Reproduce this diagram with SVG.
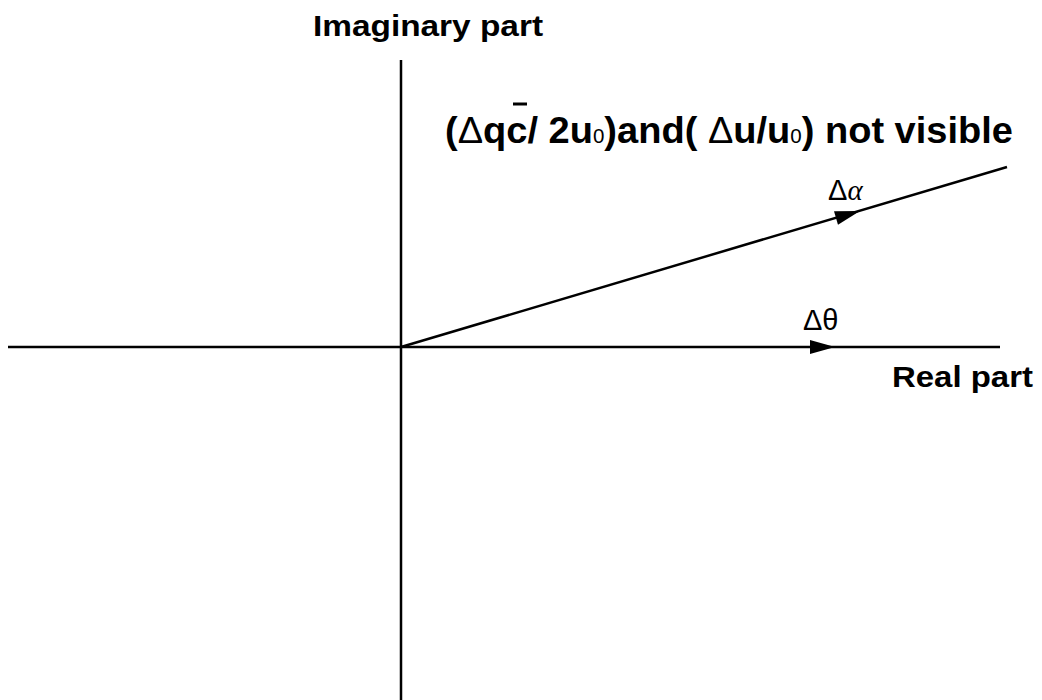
<svg xmlns="http://www.w3.org/2000/svg" width="1042" height="700" viewBox="0 0 1042 700">
<style>
.ax{stroke:#000;stroke-width:2.5;fill:none}
.lbl{font-family:"Liberation Sans",Arial,sans-serif;font-weight:bold;fill:#000}
.sym{font-family:"Liberation Sans",Arial,sans-serif;font-weight:normal;fill:#000}
</style>
<rect width="1042" height="700" fill="#fff"/>
<g id="connectors">
<line class="ax" x1="8" y1="347" x2="1000" y2="347"/>
<line class="ax" x1="401" y1="60" x2="401" y2="700"/>
<line class="ax" x1="401" y1="347" x2="1007" y2="167"/>
<path d="M810,340 L835,347 L810,354 Z" fill="#000"/>
<path d="M0,-7 L25,0 L0,7 Z" fill="#000" transform="translate(836,218) rotate(-16.5)"/>
</g>
<g id="imag-label"><text class="lbl" x="313" y="36" font-size="29" textLength="230" lengthAdjust="spacingAndGlyphs">Imaginary part</text></g>
<g id="real-label"><text class="lbl" x="892" y="387" font-size="30" textLength="141" lengthAdjust="spacingAndGlyphs">Real part</text></g>
<g id="note">
<text class="lbl" x="445" y="143" font-size="37" textLength="568" lengthAdjust="spacingAndGlyphs">(<tspan class="sym">Δ</tspan>qc/ 2u<tspan font-size="20" font-weight="normal">0</tspan>)and( <tspan class="sym">Δ</tspan>u/u<tspan font-size="20" font-weight="normal">0</tspan>) not visible</text>
<line x1="513" y1="104" x2="527" y2="104" stroke="#000" stroke-width="3"/>
</g>
<g id="alpha-label"><text class="sym" x="828" y="200" font-size="29">Δ<tspan font-family="'Liberation Serif',serif" font-style="italic">α</tspan></text></g>
<g id="theta-label"><text class="sym" x="803" y="330" font-size="29">Δθ</text></g>
</svg>
